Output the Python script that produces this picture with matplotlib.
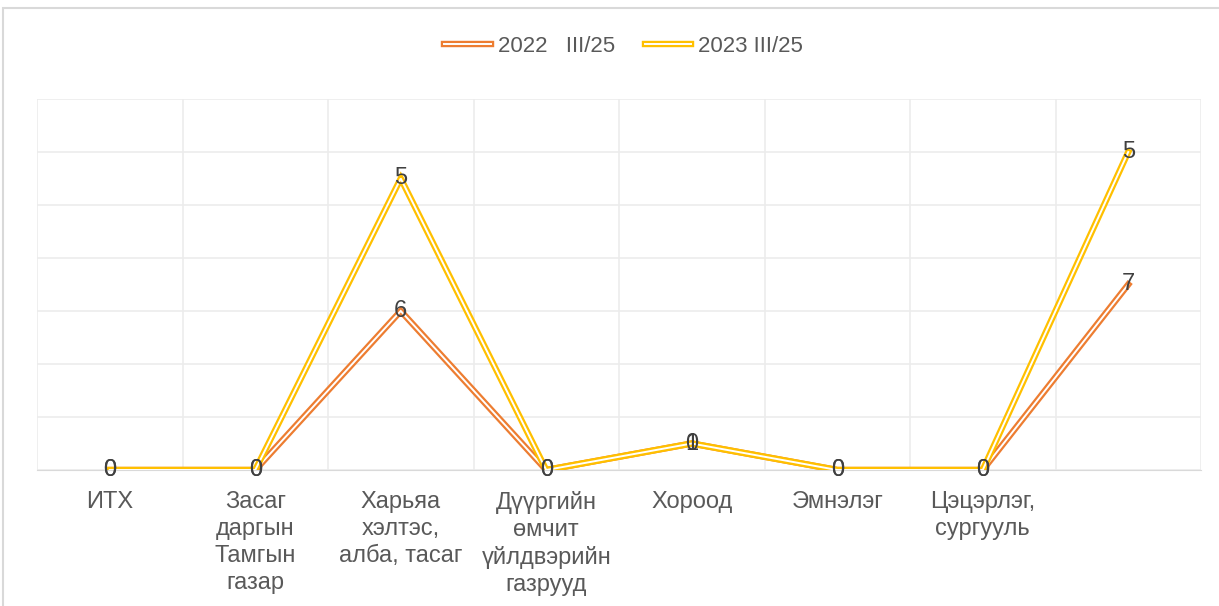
import matplotlib

matplotlib.use("Agg")
import matplotlib.pyplot as plt
from matplotlib.legend_handler import HandlerTuple
from matplotlib.lines import Line2D
from matplotlib.patches import Rectangle
import numpy as np

plt.rcParams["font.family"] = ["Liberation Sans", "DejaVu Sans"]

categories = [
    "ИТХ",
    "Засаг\nдаргын\nТамгын\nгазар",
    "Харьяа\nхэлтэс,\nалба, тасаг",
    "Дүүргийн\nөмчит\nүйлдвэрийн\nгазрууд",
    "Хороод",
    "Эмнэлэг",
    "Цэцэрлэг,\nсургууль",
    "",
]
series_names = ["2022   III/25", "2023 III/25"]
values_2022 = [0, 0, 6, 0, 1, 0, 0, 7]
values_2023 = [0, 0, 5, 0, 0, 0, 0, 5]
colors = ["#ED7D31", "#FFC000"]

LW_OUT = 4.6
LW_IN = 1.4

fig = plt.figure(figsize=(12.19, 6.06), dpi=100)
# outer chart frame (only top/left visible in the crop)
fig.patches.append(Rectangle((3 / 1219, -0.1), 1.2, (606 - 8) / 606 + 0.1,
                             transform=fig.transFigure, fill=False,
                             edgecolor="#d9d9d9", linewidth=1.5))

ax = fig.add_axes([37 / 1219, (606 - 470) / 606, (1201 - 37) / 1219, (470 - 99) / 606])
x = np.arange(len(categories))

# stacked line chart, double-line style
stacked = np.cumsum([values_2022, values_2023], axis=0)
for vals, raw, color in zip(stacked, [values_2022, values_2023], colors):
    ax.plot(x, vals, color=color, linewidth=LW_OUT, solid_joinstyle="miter", zorder=3)
    ax.plot(x, vals, color="white", linewidth=LW_IN, solid_joinstyle="miter", zorder=3)
    for xi, yi, v in zip(x, vals, raw):
        ax.text(xi, yi, str(v), ha="center", va="center", fontsize=17,
                color="#404040", zorder=4)

ax.set_xlim(-0.5, len(categories) - 0.5)
ax.set_ylim(0, 14)
ax.set_yticks(np.arange(0, 15, 2))
ax.set_yticklabels([])
ax.set_xticks(x)
ax.set_xticklabels(categories, fontsize=17, color="#595959", linespacing=1.3, va="top")
ax.set_xticks(np.arange(-0.5, len(categories)), minor=True)
ax.tick_params(axis="both", which="both", length=0)
ax.tick_params(axis="x", pad=15)
ax.grid(axis="y", color="#ececec", linewidth=1.2)
ax.grid(axis="x", which="minor", color="#ececec", linewidth=1.2)
for side in ["top", "right", "left"]:
    ax.spines[side].set_visible(False)
ax.spines["bottom"].set_color("#d9d9d9")
ax.set_axisbelow(True)

handles = [(Line2D([], [], color=c, linewidth=LW_OUT), Line2D([], [], color="white", linewidth=LW_IN))
           for c in colors]
fig.legend(handles, series_names, loc="center", bbox_to_anchor=(0.5115, 1 - 46 / 606),
           ncol=2, frameon=False, fontsize=16, handlelength=2.1, handletextpad=0.3,
           columnspacing=1.35, labelcolor="#595959",
           handler_map={tuple: HandlerTuple(ndivide=1)})

fig.savefig("out.png", dpi=100)
